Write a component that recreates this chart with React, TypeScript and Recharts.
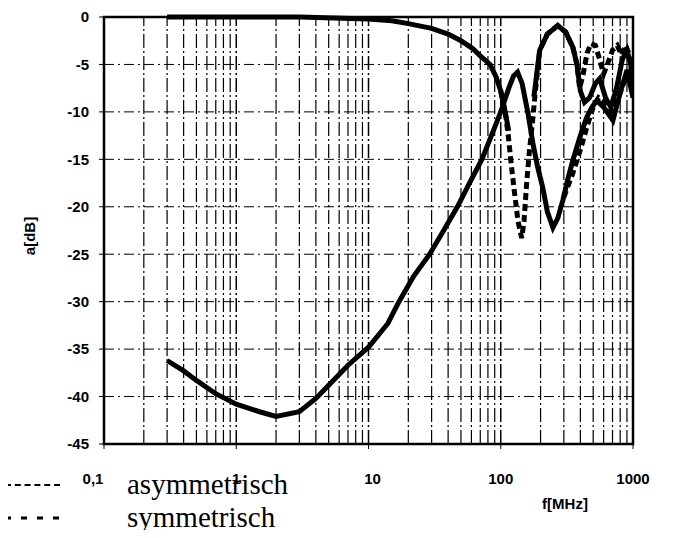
import React from "react";
import {
  LineChart,
  Line,
  XAxis,
  YAxis,
  CartesianGrid,
  ReferenceLine,
  ReferenceArea,
} from "recharts";

// rising curve, asymmetrisch (solid)
const riseFreq = [0.3, 0.4, 0.5, 0.7, 1, 1.5, 2, 3, 4, 5, 7, 10, 14, 17, 22, 29, 37, 47, 58, 72, 85, 100, 115, 125, 134, 145, 160, 175, 190, 208, 225, 248, 270, 295, 320, 351, 400, 446, 490, 533, 600, 705, 800, 900, 1000];
const riseAsym = [-36.2, -37.3, -38.3, -39.7, -40.8, -41.6, -42.1, -41.6, -40.2, -38.8, -36.7, -34.8, -32.3, -30, -27.3, -25, -22.5, -20, -17.5, -15, -12.5, -10, -7.5, -6.2, -5.8, -7, -10, -13.3, -15.8, -18, -20.5, -22.2, -21.2, -19.3, -17.2, -15.1, -12.5, -10.6, -9.5, -8.8, -9.5, -10.9, -8, -5.6, -8.5];

// rising curve, symmetrisch (dashed) - only where it leaves the solid one
const riseSymFreq = [300, 350, 400, 450, 500, 550, 620, 700, 800, 900, 1000];
const riseSym = [-19, -16.5, -14, -11.5, -9.5, -8.5, -9, -10, -8, -6, -7];

// falling curve, asymmetrisch (solid), hidden inside the deep dip
const fallFreq = [0.3, 1, 3, 10, 15, 20, 30, 40, 50, 61, 70, 83, 92, 100, 108, 115, 140, 178, 197, 225, 270, 310, 351, 377, 400, 430, 470, 520, 560, 620, 680, 750, 830, 900, 960, 1000];
const fallAsym = [0, 0, 0, -0.2, -0.4, -0.7, -1.2, -1.8, -2.5, -3.3, -4.1, -5, -6.3, -7.8, -10, -12, null, -8.4, -3.5, -1.8, -0.9, -1.6, -3.2, -5, -7.8, -9, -8.5, -7, -6.5, -8.5, -9.5, -7.5, -4.5, -3.5, -5, -7];

// falling curve, symmetrisch (dashed)
const fallSymFreq = [100, 108, 114, 120, 127, 135, 144, 150, 157, 165, 174, 181, 197, 225, 270, 310, 351, 377, 395, 420, 450, 480, 520, 560, 600, 640, 700, 760, 820, 880, 940, 1000];
const fallSym = [-7.8, -10, -12.5, -15.5, -18.5, -21.5, -23.3, -21.5, -17.5, -14, -11, -8.4, -3.5, -1.8, -0.9, -1.6, -3.2, -5, -7.5, -6, -3.8, -2.8, -3, -4.5, -6, -5, -3.5, -3, -4, -3, -4, -7];

const xTicks = [0.1, 1, 10, 100, 1000];
const yTicks = [0, -5, -10, -15, -20, -25, -30, -35, -40, -45];
const gridFreqs = [0.2, 0.3, 0.4, 0.5, 0.6, 0.7, 0.8, 0.9, 1, 2, 3, 4, 5, 6, 7, 8, 9, 10, 20, 30, 40, 50, 60, 70, 80, 90, 100, 200, 300, 400, 500, 600, 700, 800, 900];

const zip = (f: number[], v: (number | null)[]) => f.map((x, i) => ({ f: x, a: v[i] }));

const axisFont = { fontFamily: "Arial, 'Liberation Sans', sans-serif", fontWeight: 700, fontSize: 15, fill: "#000" };

function XTick(props: any) {
  const { x, y, payload } = props;
  const v = payload.value;
  const label = v === 0.1 ? "0,1" : String(v);
  const dx = v === 0.1 ? -11 : v === 10 ? 4 : 0;
  return (
    <text x={x + dx} y={y} dy={33} textAnchor="middle" style={axisFont as any}>
      {label}
    </text>
  );
}

export default function App() {
  return (
    <div style={{ position: "relative", width: 660, height: 522 }}>
      <LineChart
        width={660}
        height={522}
        margin={{ top: 9, right: 35, bottom: 56, left: 0 }}
      >
        <CartesianGrid vertical={false} stroke="#000" strokeDasharray="10 4 2 4" />
        {gridFreqs.map((g) => (
          <ReferenceLine key={g} x={g} stroke="#000" strokeWidth={g === 1 || g === 10 || g === 100 ? 1.5 : 1.2} strokeDasharray="14 3 2 3" />
        ))}
        <XAxis
          dataKey="f"
          type="number"
          scale="log"
          domain={[0.1, 1000]}
          ticks={xTicks}
          allowDataOverflow
          axisLine={{ stroke: "#000", strokeWidth: 2 }}
          tickLine={{ stroke: "#000" }}
          tickSize={5}
          height={30}
          tick={<XTick />}
          label={{
            content: () => (
              <text x={557} y={501} textAnchor="middle" style={axisFont as any}>
                f[MHz]
              </text>
            ),
          }}
        />
        <YAxis
          type="number"
          domain={[-45, 0]}
          ticks={yTicks}
          width={96}
          axisLine={{ stroke: "#000", strokeWidth: 2 }}
          tickLine={{ stroke: "#000" }}
          tickSize={5}
          tickMargin={10}
          tick={axisFont}
          label={{
            content: () => (
              <text transform="translate(27,228) rotate(-90)" textAnchor="middle" style={axisFont as any}>
                a[dB]
              </text>
            ),
          }}
        />
        <ReferenceArea x1={0.1} x2={1000} y1={-45} y2={0} fill="none" stroke="#000" strokeWidth={2.5} ifOverflow="visible" />
        <Line data={zip(riseSymFreq, riseSym)} dataKey="a" stroke="#000" strokeWidth={5} strokeDasharray="7 4" dot={false} isAnimationActive={false} />
        <Line data={zip(fallSymFreq, fallSym)} dataKey="a" stroke="#000" strokeWidth={5} strokeDasharray="7 4" dot={false} isAnimationActive={false} />
        <Line data={zip(riseFreq, riseAsym)} dataKey="a" stroke="#000" strokeWidth={5} dot={false} isAnimationActive={false} />
        <Line data={zip(fallFreq, fallAsym)} dataKey="a" stroke="#000" strokeWidth={5} dot={false} connectNulls={false} isAnimationActive={false} />
      </LineChart>

      {/* legend */}
      <div style={{ position: "absolute", left: -3, top: 460, fontFamily: "'Liberation Serif', 'Times New Roman', serif", fontSize: 29, lineHeight: "33px" }}>
        <div style={{ display: "flex", alignItems: "center" }}>
          <div style={{ width: 55, borderTop: "2px dashed #000" }} />
          <span style={{ marginLeft: 67 }}>asymmetrisch</span>
        </div>
        <div style={{ display: "flex", alignItems: "center" }}>
          <svg width={55} height={6}>
            <line x1={0} y1={3} x2={55} y2={3} stroke="#000" strokeWidth={3} strokeDasharray="6 10" />
          </svg>
          <span style={{ marginLeft: 67 }}>symmetrisch</span>
        </div>
      </div>
    </div>
  );
}
